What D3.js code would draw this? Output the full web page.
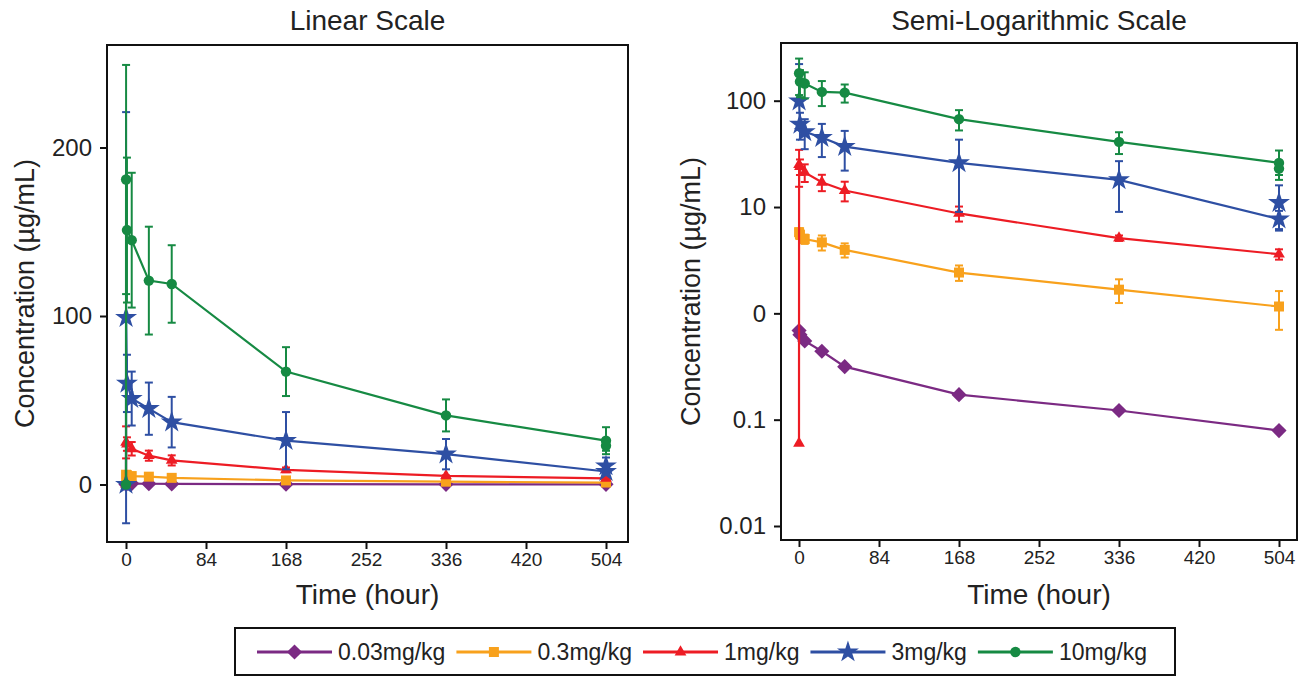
<!DOCTYPE html>
<html>
<head>
<meta charset="utf-8">
<script src="https://cdn.jsdelivr.net/npm/d3@7"></script>
<style>
  body { margin: 0; background: #fff; }
  text { font-family: "Liberation Sans", Arial, sans-serif; fill: #222; }
</style>
</head>
<body>
<svg id="chart" width="1307" height="676"></svg>
<script>
// sampling times (hour)
const times = [0, 0.083, 1, 6, 24, 48, 168, 336, 504];

const doseLabels = ['0.03mg/kg', '0.3mg/kg', '1mg/kg', '3mg/kg', '10mg/kg'];
const doseColors = ['#7b2a83', '#f8a11c', '#ed1c24', '#2e4fa3', '#168a43'];

// mean concentration and SD per dose group (µg/mL)
const conc003 = [0, 0.69, 0.63, 0.55, 0.44, 0.315, 0.172, 0.122, 0.079];
const sd003   = [0, 0, 0, 0, 0, 0, 0, 0, 0];
const conc03  = [0, 5.8, 5.5, 5.0, 4.65, 3.95, 2.42, 1.67, 1.16];
const sd03    = [0, 0.5, 0.5, 0.5, 0.75, 0.6, 0.4, 0.42, 0.46];
const conc1   = [0.06, 25, 24, 21.2, 17.1, 14.3, 8.7, 5.1, 3.6];
const sd1     = [0, 9.5, 4, 4, 3, 3, 1.4, 0.3, 0.4];
const conc3   = [0, 99, 60, 51, 45, 37, 26, 18, 7.7];
const sd3     = [0, 122, 17, 16, 15.5, 15, 17, 9, 1.5];
const conc10  = [0, 181, 151, 145, 121, 119, 67, 41, 26];
const sd10    = [0, 68, 43, 40, 32, 23, 14.5, 9.5, 8];

// second sample at the last time point (mean, sd), shown as a marker only
const extraTime = 504;
const extra3  = [11, 5];
const extra10 = [23, 3];

const xTicks = [0, 84, 168, 252, 336, 420, 504];
const linTicks = [0, 100, 200];
const logTicks = [100, 10, 1, 0.1, 0.01];
const logTickLabels = ['100', '10', '0', '0.1', '0.01'];

// diamond with equal width and height
const symDiamond = {
  draw(ctx, size) {
    const r = Math.sqrt(size / 2);
    ctx.moveTo(0, -r); ctx.lineTo(r, 0); ctx.lineTo(0, r); ctx.lineTo(-r, 0); ctx.closePath();
  }
};

const series = [
  { conc: conc003, sd: sd003, symbol: symDiamond, size: 115 },
  { conc: conc03, sd: sd03, symbol: d3.symbolSquare, size: 100 },
  { conc: conc1, sd: sd1, symbol: d3.symbolTriangle, size: 60 },
  { conc: conc3, sd: sd3, symbol: d3.symbolStar, size: 150, extra: extra3 },
  { conc: conc10, sd: sd10, symbol: d3.symbolCircle, size: 85, extra: extra10 }
];
series.forEach((s, i) => { s.color = doseColors[i]; s.label = doseLabels[i]; });

const svg = d3.select('#chart');

function drawPanel(cfg) {
  const g = svg.append('g');
  const x = d3.scaleLinear().domain([0, 504]).range(cfg.xRange);
  const y = cfg.y;
  const f = cfg.frame;
  const isLog = cfg.log;

  g.append('clipPath').attr('id', cfg.id + '-clip')
    .append('rect').attr('x', f.x0).attr('y', f.y0)
    .attr('width', f.x1 - f.x0).attr('height', f.y1 - f.y0);

  const plot = g.append('g').attr('clip-path', `url(#${cfg.id}-clip)`);
  const ok = v => isLog ? v > 0 : true;

  series.forEach(s => {
    const pts = times.map((t, i) => ({ t, v: s.conc[i], sd: s.sd[i] }));
    if (s.extra) pts.push({ t: extraTime, v: s.extra[0], sd: s.extra[1], extra: true });
    const shown = pts.filter(p => ok(p.v));
    const sg = plot.append('g');

    // error bars (lower half dropped when it would go below zero on the log scale)
    shown.filter(p => p.sd > 0).forEach(p => {
      const cx = x(p.t);
      const hi = y(p.v + p.sd);
      const lo = ok(p.v - p.sd) ? y(p.v - p.sd) : y(p.v);
      sg.append('line').attr('x1', cx).attr('x2', cx).attr('y1', hi).attr('y2', lo)
        .attr('stroke', s.color).attr('stroke-width', 2);
      sg.append('line').attr('x1', cx - 4).attr('x2', cx + 4).attr('y1', hi).attr('y2', hi)
        .attr('stroke', s.color).attr('stroke-width', 2);
      if (ok(p.v - p.sd)) {
        sg.append('line').attr('x1', cx - 4).attr('x2', cx + 4).attr('y1', lo).attr('y2', lo)
          .attr('stroke', s.color).attr('stroke-width', 2);
      }
    });

    // connecting line
    const line = d3.line().x(p => x(p.t)).y(p => y(p.v));
    sg.append('path').datum(shown.filter(p => !p.extra))
      .attr('d', line).attr('fill', 'none')
      .attr('stroke', s.color).attr('stroke-width', 2.2);

    // markers
    sg.selectAll('path.pt').data(shown).enter().append('path')
      .attr('class', 'pt')
      .attr('d', d3.symbol().type(s.symbol).size(s.size))
      .attr('transform', p => `translate(${x(p.t)},${y(p.v)})`)
      .attr('fill', s.color);
  });

  // frame
  g.append('rect').attr('x', f.x0).attr('y', f.y0)
    .attr('width', f.x1 - f.x0).attr('height', f.y1 - f.y0)
    .attr('fill', 'none').attr('stroke', '#111').attr('stroke-width', 2);

  // axes
  const xAxis = g.append('g').attr('transform', `translate(0,${f.y1})`)
    .call(d3.axisBottom(x).tickValues(xTicks).tickSize(7).tickPadding(4).tickSizeOuter(0));
  xAxis.select('.domain').remove();
  xAxis.selectAll('text').style('font-size', '19px').attr('fill', '#222');
  xAxis.selectAll('line').attr('stroke', '#111').attr('stroke-width', 2);

  const yAxis = g.append('g').attr('transform', `translate(${f.x0},0)`)
    .call(d3.axisLeft(y).tickValues(cfg.yTicks).tickFormat(cfg.yFormat)
      .tickSize(7).tickPadding(8).tickSizeOuter(0));
  yAxis.select('.domain').remove();
  yAxis.selectAll('text').style('font-size', '24px').attr('fill', '#222');
  yAxis.selectAll('line').attr('stroke', '#111').attr('stroke-width', 2);

  const cx = (f.x0 + f.x1) / 2;
  g.append('text').attr('x', cx).attr('y', 30).attr('text-anchor', 'middle')
    .style('font-size', '28px').text(cfg.title);
  g.append('text').attr('x', cx).attr('y', 604).attr('text-anchor', 'middle')
    .style('font-size', '28px').text('Time (hour)');
  g.append('text')
    .attr('transform', `translate(${cfg.yTitleX},${(f.y0 + f.y1) / 2}) rotate(-90)`)
    .attr('text-anchor', 'middle').style('font-size', '27px')
    .text('Concentration (µg/mL)');
}

drawPanel({
  id: 'lin',
  title: 'Linear Scale',
  log: false,
  frame: { x0: 107, x1: 628, y0: 45, y1: 542 },
  xRange: [126, 606],
  y: d3.scaleLinear().domain([0, 200]).range([484.5, 147.5]),
  yTicks: linTicks,
  yFormat: d3.format('d'),
  yTitleX: 34
});

drawPanel({
  id: 'log',
  title: 'Semi-Logarithmic Scale',
  log: true,
  frame: { x0: 781, x1: 1297, y0: 43, y1: 540 },
  xRange: [799, 1279],
  y: d3.scaleLog().domain([0.01, 100]).range([526, 100.7]),
  yTicks: logTicks,
  yFormat: v => logTickLabels[logTicks.indexOf(v)],
  yTitleX: 700
});

// legend
const legend = svg.append('g');
legend.append('rect').attr('x', 235).attr('y', 628).attr('width', 940).attr('height', 47)
  .attr('fill', '#fff').attr('stroke', '#111').attr('stroke-width', 2);
let lx = 257;
const ly = 652;
series.forEach(s => {
  legend.append('line').attr('x1', lx).attr('x2', lx + 75).attr('y1', ly).attr('y2', ly)
    .attr('stroke', s.color).attr('stroke-width', 3);
  legend.append('path').attr('d', d3.symbol().type(s.symbol).size(s.size))
    .attr('transform', `translate(${lx + 37.5},${ly})`).attr('fill', s.color);
  const t = legend.append('text').attr('x', lx + 81).attr('y', ly + 8)
    .style('font-size', '23px').text(s.label);
  lx += 81 + t.node().getComputedTextLength() + 11;
});
</script>
</body>
</html>
